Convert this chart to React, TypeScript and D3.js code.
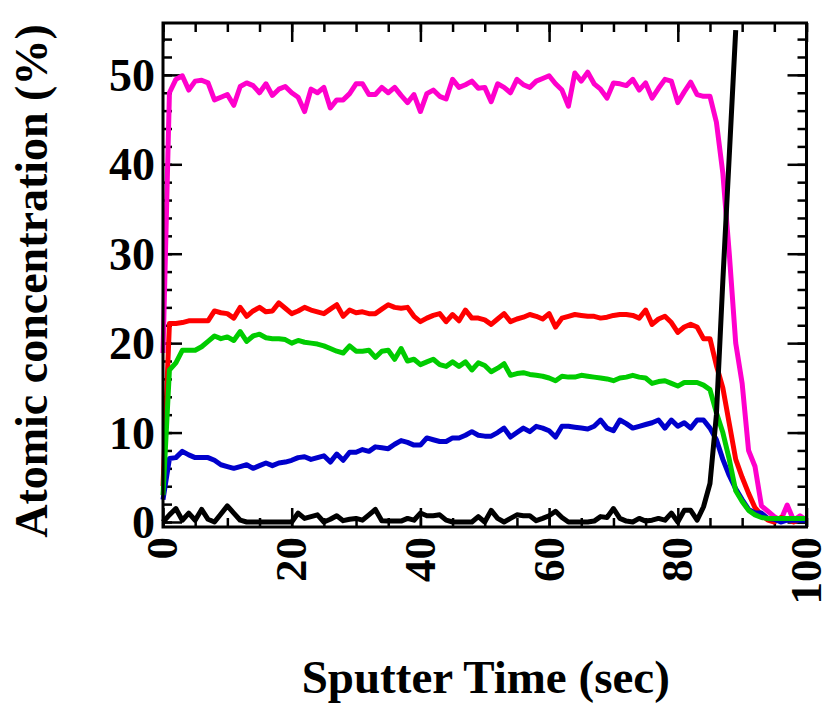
import React, { useEffect, useRef } from 'react';
import * as d3 from 'd3';

// sputter time in seconds, one reading per second
const sputterTime = d3.range(0, 101);

const xTicks = [0, 20, 40, 60, 80, 100];
const yTicks = [0, 10, 20, 30, 40, 50];

const pinkSeries = [
    18.9, 48.0, 49.5, 49.9, 48.3, 49.3, 49.4, 49.1, 47.2, 47.5,
    47.8, 46.6, 48.7, 49.1, 48.8, 48.0, 49.0, 47.7, 48.4, 48.7,
    48.0, 47.5, 45.9, 48.4, 48.0, 48.6, 46.3, 47.2, 47.2, 47.9,
    49.0, 49.0, 47.8, 47.8, 48.6, 48.0, 48.6, 47.7, 46.9, 47.8,
    45.9, 47.9, 48.3, 47.6, 47.3, 49.5, 48.6, 48.9, 49.3, 48.5,
    48.6, 47.0, 49.0, 48.6, 48.0, 49.5, 48.9, 48.6, 49.3, 49.6,
    49.9, 49.0, 48.3, 46.5, 50.2, 49.3, 50.3, 49.0, 48.4, 47.4,
    49.1, 49.0, 48.8, 49.5, 48.3, 49.1, 47.4, 48.5, 49.5, 49.3,
    46.9, 48.1, 49.2, 47.8, 47.6, 47.6, 44.7, 39.0, 30.0, 20.0,
    15.5, 8.0, 6.2, 1.8, 1.2, 0.6, 0.2, 1.9, 0.2, 0.7,
    0.2
];

const redSeries = [
    4.0, 22.2, 22.2, 22.3, 22.5, 22.5, 22.5, 22.5, 23.6, 23.4,
    23.3, 22.8, 24.0, 23.0, 23.6, 24.0, 23.5, 23.6, 24.5, 23.9,
    23.3, 23.6, 24.0, 23.7, 23.5, 23.3, 23.8, 24.3, 23.0, 23.7,
    23.4, 23.5, 23.3, 23.3, 23.8, 24.3, 24.0, 23.9, 24.0, 23.0,
    22.4, 22.8, 23.1, 23.3, 22.4, 23.2, 22.5, 23.7, 22.8, 22.8,
    22.6, 22.1, 22.7, 23.3, 22.4, 22.7, 22.9, 23.2, 23.0, 22.7,
    23.3, 21.8, 22.8, 23.0, 23.2, 23.1, 23.0, 23.0, 22.8, 22.9,
    23.1, 23.2, 23.2, 23.1, 22.8, 23.7, 22.1, 22.7, 23.0, 22.3,
    21.2, 21.8, 22.1, 21.8, 20.5, 20.5, 17.5, 15.0, 11.0, 7.0,
    5.0, 3.2, 1.6, 0.8, 0.2, 0.0, 0.5, 0.3, 0.0, 0.3,
    0.3
];

const greenSeries = [
    3.0, 17.0, 17.8, 19.2, 19.2, 19.2, 19.6, 20.2, 20.8, 20.5,
    20.7, 20.3, 21.3, 20.2, 20.8, 21.0, 20.6, 20.5, 20.5, 20.4,
    20.0, 20.3, 20.1, 20.0, 19.9, 19.7, 19.4, 19.1, 18.9, 19.7,
    19.1, 19.1, 19.2, 18.4, 19.1, 19.2, 18.2, 19.4, 18.0, 18.2,
    17.6, 17.9, 18.2, 17.6, 17.4, 17.9, 17.4, 17.9, 17.0, 17.8,
    17.5, 16.8, 17.2, 17.7, 16.4, 16.6, 16.7, 16.5, 16.4, 16.3,
    16.1, 15.8, 16.3, 16.2, 16.2, 16.4, 16.3, 16.2, 16.1, 16.0,
    15.8, 16.1, 16.2, 16.4, 16.2, 16.1, 15.5, 15.7, 15.8, 15.5,
    15.2, 15.6, 15.6, 15.6, 15.3, 14.8, 12.2, 10.0, 7.0, 3.5,
    2.3, 1.3, 0.8, 0.5, 0.4, 0.4, 0.4, 0.4, 0.4, 0.4,
    0.4
];

const blueSeries = [
    2.5, 7.1, 7.2, 7.9, 7.5, 7.2, 7.2, 7.2, 6.9, 6.4,
    6.2, 6.0, 6.2, 6.4, 6.0, 6.3, 6.6, 6.3, 6.6, 6.7,
    6.9, 7.2, 7.3, 7.0, 7.2, 7.4, 6.7, 7.6, 6.9, 7.8,
    7.8, 8.1, 7.9, 8.4, 8.3, 8.2, 8.7, 9.1, 8.9, 8.6,
    8.6, 9.4, 9.2, 9.0, 9.0, 9.4, 9.4, 9.7, 10.1, 9.7,
    9.6, 9.6, 10.0, 10.5, 9.5, 10.0, 10.5, 10.1, 10.7, 10.5,
    10.2, 9.5, 10.7, 10.7, 10.6, 10.5, 10.4, 10.7, 11.4, 10.5,
    10.2, 11.4, 11.0, 10.5, 10.7, 10.9, 11.1, 11.4, 10.5, 11.4,
    10.7, 11.1, 10.5, 11.4, 11.4, 10.5, 9.2, 7.0, 5.2, 3.7,
    2.5, 1.4, 1.0, 1.0, 0.4, 0.3, 0.0, 0.2, 0.2, 0.2,
    0.2
];

// black trace stops at 89 sec, it runs off the top after that
const blackSeries = [
    0.0, 0.8, 1.5, 0.2, 1.0, 0.2, 1.4, 0.3, 0.0, 0.9,
    1.8, 1.0, 0.2, 0.0, 0.0, 0.0, 0.0, 0.0, 0.0, 0.0,
    0.0, 1.0, 0.4, 0.6, 0.8, 0.0, 0.3, 0.7, 0.15, 0.3,
    0.4, 0.2, 0.8, 1.4, 0.15, 0.1, 0.1, 0.1, 0.4, 0.2,
    1.0, 0.7, 0.7, 0.8, 0.2, 0.0, 0.0, 0.0, 0.0, 0.6,
    0.0, 1.3, 0.4, 0.0, 0.4, 0.8, 0.7, 0.7, 0.15, 0.4,
    0.7, 1.2, 0.5, 0.0, 0.0, 0.0, 0.0, 0.1, 0.6, 0.5,
    1.5, 0.4, 0.1, 0.0, 0.4, 0.1, 0.2, 0.4, 0.2, 1.0,
    0.0, 1.3, 1.3, 0.2, 1.7, 4.3, 12.0, 27.0, 41.0, 55.0
];

const seriesList = [
    { name: 'pink', values: pinkSeries, color: '#ff00cc' },
    { name: 'red', values: redSeries, color: '#ff0000' },
    { name: 'blue', values: blueSeries, color: '#0000cc' },
    { name: 'green', values: greenSeries, color: '#00cc00' },
    { name: 'black', values: blackSeries, color: '#000000' },
];

const fontFamily = '"Liberation Serif", "Times New Roman", serif';

const ProfileChart = ({ width, height }: { width: number; height: number }) => {
    const svgRef = useRef<SVGSVGElement>(null);

    useEffect(() => {
        const svg = d3.select(svgRef.current);
        svg.selectAll('*').remove();

        const left = 163, right = 806.5, top = 23, bottom = 527;

        const xScale = d3.scaleLinear().domain([0, 100]).range([left, right]);
        const yScale = d3.scaleLinear().domain([-0.56, 55.8]).range([bottom, top]);

        const xMinor = d3.range(0, 101, 5);
        const yMinor = d3.range(0, 56, 2);

        // ticks point inward on all four sides
        const tickGroup = (axis, transform) => {
            svg.append('g')
                .attr('transform', transform)
                .call(axis)
                .call(g => g.select('.domain').remove())
                .call(g => g.selectAll('line').attr('stroke', '#000').attr('stroke-width', 2.5));
        };

        tickGroup(d3.axisBottom(xScale).tickValues(xMinor).tickSize(-9).tickFormat(() => ''), `translate(0,${bottom})`);
        tickGroup(d3.axisBottom(xScale).tickValues(xTicks).tickSize(-19).tickFormat(() => ''), `translate(0,${bottom})`);
        tickGroup(d3.axisTop(xScale).tickValues(xMinor).tickSize(-9).tickFormat(() => ''), `translate(0,${top})`);
        tickGroup(d3.axisTop(xScale).tickValues(xTicks).tickSize(-19).tickFormat(() => ''), `translate(0,${top})`);
        tickGroup(d3.axisLeft(yScale).tickValues(yMinor).tickSize(-9).tickFormat(() => ''), `translate(${left},0)`);
        tickGroup(d3.axisLeft(yScale).tickValues(yTicks).tickSize(-19).tickFormat(() => ''), `translate(${left},0)`);
        tickGroup(d3.axisRight(yScale).tickValues(yMinor).tickSize(-9).tickFormat(() => ''), `translate(${right},0)`);
        tickGroup(d3.axisRight(yScale).tickValues(yTicks).tickSize(-19).tickFormat(() => ''), `translate(${right},0)`);

        const line = d3.line<number>()
            .x((d, i) => xScale(sputterTime[i]))
            .y(d => yScale(d));

        seriesList.forEach(s => {
            svg.append('path')
                .datum(s.values)
                .attr('fill', 'none')
                .attr('stroke', s.color)
                .attr('stroke-width', 5)
                .attr('stroke-linejoin', 'round')
                .attr('d', line);
        });

        svg.append('rect')
            .attr('x', left)
            .attr('y', top)
            .attr('width', right - left)
            .attr('height', bottom - top)
            .attr('fill', 'none')
            .attr('stroke', '#000')
            .attr('stroke-width', 3);

        // y tick labels
        svg.append('g')
            .selectAll('text')
            .data(yTicks)
            .enter()
            .append('text')
            .attr('x', left - 8)
            .attr('y', d => yScale(d))
            .attr('dy', '0.35em')
            .attr('text-anchor', 'end')
            .attr('font-family', fontFamily)
            .attr('font-weight', 'bold')
            .attr('font-size', 46)
            .text(d => d);

        // x tick labels, turned to read upwards
        svg.append('g')
            .selectAll('text')
            .data(xTicks)
            .enter()
            .append('text')
            .attr('transform', d => `translate(${xScale(d)},537) rotate(-90)`)
            .attr('dy', '0.32em')
            .attr('text-anchor', 'end')
            .attr('font-family', fontFamily)
            .attr('font-weight', 'bold')
            .attr('font-size', 45)
            .text(d => d);

        svg.append('text')
            .attr('x', (left + right) / 2 + 1)
            .attr('y', 693)
            .attr('text-anchor', 'middle')
            .attr('font-family', fontFamily)
            .attr('font-weight', 'bold')
            .attr('font-size', 47)
            .text('Sputter Time (sec)');

        svg.append('text')
            .attr('transform', 'translate(47,281) rotate(-90)')
            .attr('text-anchor', 'middle')
            .attr('font-family', fontFamily)
            .attr('font-weight', 'bold')
            .attr('font-size', 46)
            .text('Atomic concentration (%)');
    }, [width, height]);

    return (
        <svg ref={svgRef} width={width} height={height}
            style={{ position: 'absolute', left: 0, top: 0, background: '#fff' }} />
    );
};

export default function App() {
    return <ProfileChart width={823} height={704} />;
}
